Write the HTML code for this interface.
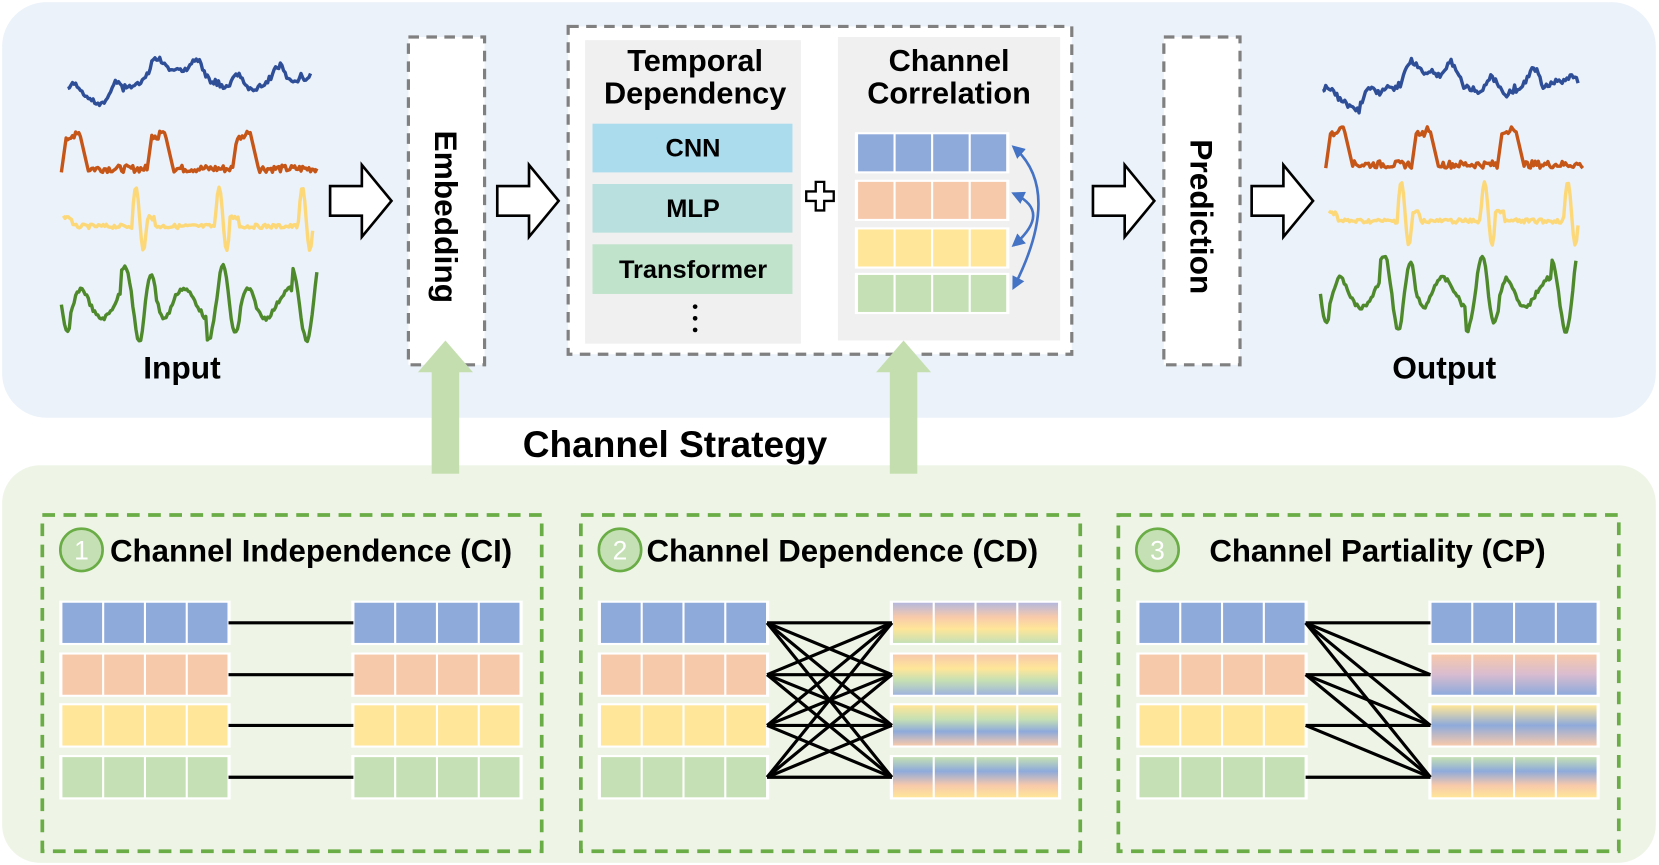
<!DOCTYPE html>
<html><head><meta charset="utf-8"><style>
html,body{margin:0;padding:0;background:#fff}
svg{display:block}
text{font-family:"Liberation Sans",Arial,sans-serif;font-weight:bold;fill:#000}
</style></head><body>
<svg id="s" width="1659" height="865" viewBox="0 0 1568 818" preserveAspectRatio="none" xmlns="http://www.w3.org/2000/svg">
<defs>
<linearGradient id="g1" x1="0" y1="0" x2="0" y2="1"><stop offset="0" stop-color="#b4b8dc"/><stop offset="0.35" stop-color="#f7c9ab"/><stop offset="0.65" stop-color="#ffe699"/><stop offset="1" stop-color="#c5e0b4"/></linearGradient>
<linearGradient id="g2" x1="0" y1="0" x2="0" y2="1"><stop offset="0" stop-color="#f7c9ab"/><stop offset="0.35" stop-color="#ffe699"/><stop offset="0.65" stop-color="#c5e0b4"/><stop offset="1" stop-color="#9fb4dd"/></linearGradient>
<linearGradient id="g3" x1="0" y1="0" x2="0" y2="1"><stop offset="0" stop-color="#ffe699"/><stop offset="0.35" stop-color="#c5e0b4"/><stop offset="0.65" stop-color="#8eaadb"/><stop offset="1" stop-color="#f7c9ab"/></linearGradient>
<linearGradient id="g4" x1="0" y1="0" x2="0" y2="1"><stop offset="0" stop-color="#c5e0b4"/><stop offset="0.35" stop-color="#8eaadb"/><stop offset="0.7" stop-color="#f7c9ab"/><stop offset="1" stop-color="#ffe699"/></linearGradient>
<linearGradient id="p2" x1="0" y1="0" x2="0" y2="1"><stop offset="0" stop-color="#f7c9ab"/><stop offset="0.5" stop-color="#d8bcd0"/><stop offset="1" stop-color="#8eaadb"/></linearGradient>
<linearGradient id="p3" x1="0" y1="0" x2="0" y2="1"><stop offset="0" stop-color="#ffe699"/><stop offset="0.5" stop-color="#8eaadb"/><stop offset="1" stop-color="#f7c9ab"/></linearGradient>
<marker id="ah" viewBox="0 0 10 10" refX="8" refY="5" markerWidth="5" markerHeight="5" orient="auto-start-reverse"><path d="M0,0L10,5L0,10z" fill="#4472c4"/></marker>
</defs>
<rect x="2" y="2" width="1563" height="393" rx="42" fill="#ebf2fa"/>
<rect x="2" y="440" width="1563" height="376" rx="36" fill="#eef5e7"/>
<!-- Embedding / Prediction -->
<rect x="386" y="35" width="72" height="310" fill="#fff" stroke="#808080" stroke-width="3" stroke-dasharray="10,7"/>
<text transform="translate(411,205) rotate(90)" text-anchor="middle" font-size="30">Embedding</text>
<rect x="1100" y="35" width="72" height="310" fill="#fff" stroke="#808080" stroke-width="3" stroke-dasharray="10,7"/>
<text transform="translate(1125,205) rotate(90)" text-anchor="middle" font-size="30">Prediction</text>
<!-- Middle box -->
<rect x="537" y="25" width="476" height="310" fill="#fff" stroke="#808080" stroke-width="3" stroke-dasharray="10,7"/>
<rect x="553" y="38" width="204" height="287" fill="#f0f0f0"/>
<rect x="792" y="35" width="210" height="287" fill="#f0f0f0"/>
<text x="657" y="67" text-anchor="middle" font-size="29">Temporal</text>
<text x="657" y="98" text-anchor="middle" font-size="29">Dependency</text>
<text x="897" y="67" text-anchor="middle" font-size="29">Channel</text>
<text x="897" y="98" text-anchor="middle" font-size="29">Correlation</text>
<rect x="560" y="117" width="189" height="46" fill="#aadcee"/>
<text x="655" y="148" text-anchor="middle" font-size="24">CNN</text>
<rect x="560" y="174" width="189" height="46" fill="#b9e0de"/>
<text x="655" y="205" text-anchor="middle" font-size="24">MLP</text>
<rect x="560" y="231" width="189" height="47" fill="#c0e3cc"/>
<text x="655" y="263" text-anchor="middle" font-size="24">Transformer</text>
<circle cx="657" cy="290" r="2.2" fill="#000"/><circle cx="657" cy="301" r="2.2" fill="#000"/><circle cx="657" cy="312" r="2.2" fill="#000"/>
<path d="M771,172h8v9h9v9h-9v9h-8v-9h-9v-9h9z" fill="#fff" stroke="#000" stroke-width="2.2"/>
<text x="172" y="358" text-anchor="middle" font-size="30">Input</text>
<text x="1365" y="358" text-anchor="middle" font-size="30">Output</text>
<!-- green arrows -->
<path d="M408,448V352H395L421,322L447,352H434V448z" fill="#c5deb0"/>
<path d="M841,448V352H828L854,322L880,352H867V448z" fill="#c5deb0"/>
<text x="638" y="432" text-anchor="middle" font-size="35">Channel Strategy</text>
<g fill="none" stroke="#6aac45" stroke-width="3.5" stroke-dasharray="12,8">
<rect x="40" y="487" width="472" height="318"/>
<rect x="549" y="487" width="472" height="318"/>
<rect x="1057" y="487" width="473" height="318"/>
</g>
<g fill="#c5e0b4" stroke="#6aac45" stroke-width="2.5">
<circle cx="77" cy="520" r="20"/><circle cx="586" cy="520" r="20"/><circle cx="1094" cy="520" r="20"/>
</g>
<g font-size="25" text-anchor="middle"><text x="77" y="529" style="fill:#fff;font-weight:normal">1</text><text x="586" y="529" style="fill:#fff;font-weight:normal">2</text><text x="1094" y="529" style="fill:#fff;font-weight:normal">3</text></g>
<text x="104" y="531" font-size="29.5">Channel Independence (CI)</text>
<text x="611" y="531" font-size="29.5">Channel Dependence (CD)</text>
<text x="1143" y="531" font-size="29.5">Channel Partiality (CP)</text>
<g id="dyn"></g>
<!-- blue arrows -->
<g fill="none" stroke="#4472c4" stroke-width="2.5">
<path d="M958,139 Q1005,180 958,272" marker-start="url(#ah)" marker-end="url(#ah)"/>
<path d="M958,183 Q995,200 958,232" marker-start="url(#ah)" marker-end="url(#ah)"/>
</g>
</svg>
<script>
var NS="http://www.w3.org/2000/svg",dyn=document.getElementById('dyn');
function el(t,a){var e=document.createElementNS(NS,t);for(var k in a)e.setAttribute(k,a[k]);dyn.appendChild(e);return e;}
var seed=7;function rnd(){seed=(seed*9301+49297)%233280;return seed/233280;}
function wave(x0,x1,f,color){var p=[];for(var x=x0;x<=x1;x+=1.5){p.push(x.toFixed(1)+','+f(x-x0,(x-x0)/(x1-x0)).toFixed(1));}
el('polyline',{points:p.join(' '),fill:'none',stroke:color,'stroke-width':3.2,'stroke-linejoin':'round'});}
function blue(y){return function(t,u){return y+10*Math.sin(t/20)-7*Math.sin(t/6)+8*Math.cos(t/41)-6*Math.sin(t/3.1)*(rnd()>0.7?1:0.3)-(rnd()*4);};}
function orange(y){return function(t,u){var ph=(u*3)%1;var v;if(ph<0.06)v=y+35-ph/0.06*35;else if(ph<0.22)v=y-(ph>0.15?4:0)+rnd()*5;else if(ph<0.32)v=y+(ph-0.22)/0.1*35;else v=y+35-rnd()*7;return v;};}
function yellow(y){return function(t,u){var ph=(u*3)%1;var v=y+rnd()*4;if(ph>0.82&&ph<0.92)v=y-35*Math.sin((ph-0.82)/0.1*Math.PI);else if(ph>0.92)v=y+25*Math.sin((ph-0.92)/0.08*Math.PI);else if(ph<0.1)v=y-8+rnd()*4;return v;};}
function green(y){return function(t,u){var ph=(u*3)%1;var amp=ph>0.7?36:(ph<0.1?28:14);return y+amp*Math.sin(t/5+Math.sin(t/13))+rnd()*4;};}
wave(64,294,blue(78),'#2e4e98');wave(58,300,orange(128),'#c65518');wave(60,296,yellow(212),'#fcd878');wave(58,300,green(285),'#4e8a2c');
wave(1250,1492,blue(82),'#2e4e98');wave(1253,1496,orange(124),'#c65518');wave(1256,1492,yellow(207),'#fcd878');wave(1248,1490,green(275),'#4e8a2c');
// hollow arrows
[312,470,1033,1183].forEach(function(x){el('path',{d:'M'+x+',176h30v-20l28,34l-28,34v-20h-30z',fill:'#fff',stroke:'#000','stroke-width':2.5});});
var cols=['#8eaadb','#f7c9ab','#ffe699','#c5e0b4'];
function row(x,y,w,h,fill){el('rect',{x:x-2,y:y-2,width:w+4,height:h+4,fill:'#fff'});var cw=w/4;for(var i=0;i<4;i++)el('rect',{x:x+i*cw+1,y:y,width:cw-2,height:h,fill:fill});}
[127,172,217,260].forEach(function(y,i){row(810,y,142,35,cols[i]);});
var ry=[570,619,667,716],rh=38;
function lines(xl,xr,pairs){pairs.forEach(function(p){el('line',{x1:xl,y1:ry[p[0]]+rh/2,x2:xr,y2:ry[p[1]]+rh/2,stroke:'#000','stroke-width':3});});}
for(var i=0;i<4;i++){row(58,ry[i],158,rh,cols[i]);row(334,ry[i],158,rh,cols[i]);}
lines(216,334,[[0,0],[1,1],[2,2],[3,3]]);
var g=['url(#g1)','url(#g2)','url(#g3)','url(#g4)'];
var all=[];for(var a=0;a<4;a++)for(var b=0;b<4;b++)all.push([a,b]);
for(var i=0;i<4;i++){row(567,ry[i],158,rh,cols[i]);row(843,ry[i],158,rh,g[i]);}
lines(725,843,all);
var pg=['#8eaadb','url(#p2)','url(#p3)','url(#g4)'];
for(var i=0;i<4;i++){row(1076,ry[i],158,rh,cols[i]);row(1352,ry[i],158,rh,pg[i]);}
var cp=[];for(var a=0;a<4;a++)for(var b=a;b<4;b++)cp.push([a,b]);
lines(1234,1352,cp);
</script>
</body></html>
